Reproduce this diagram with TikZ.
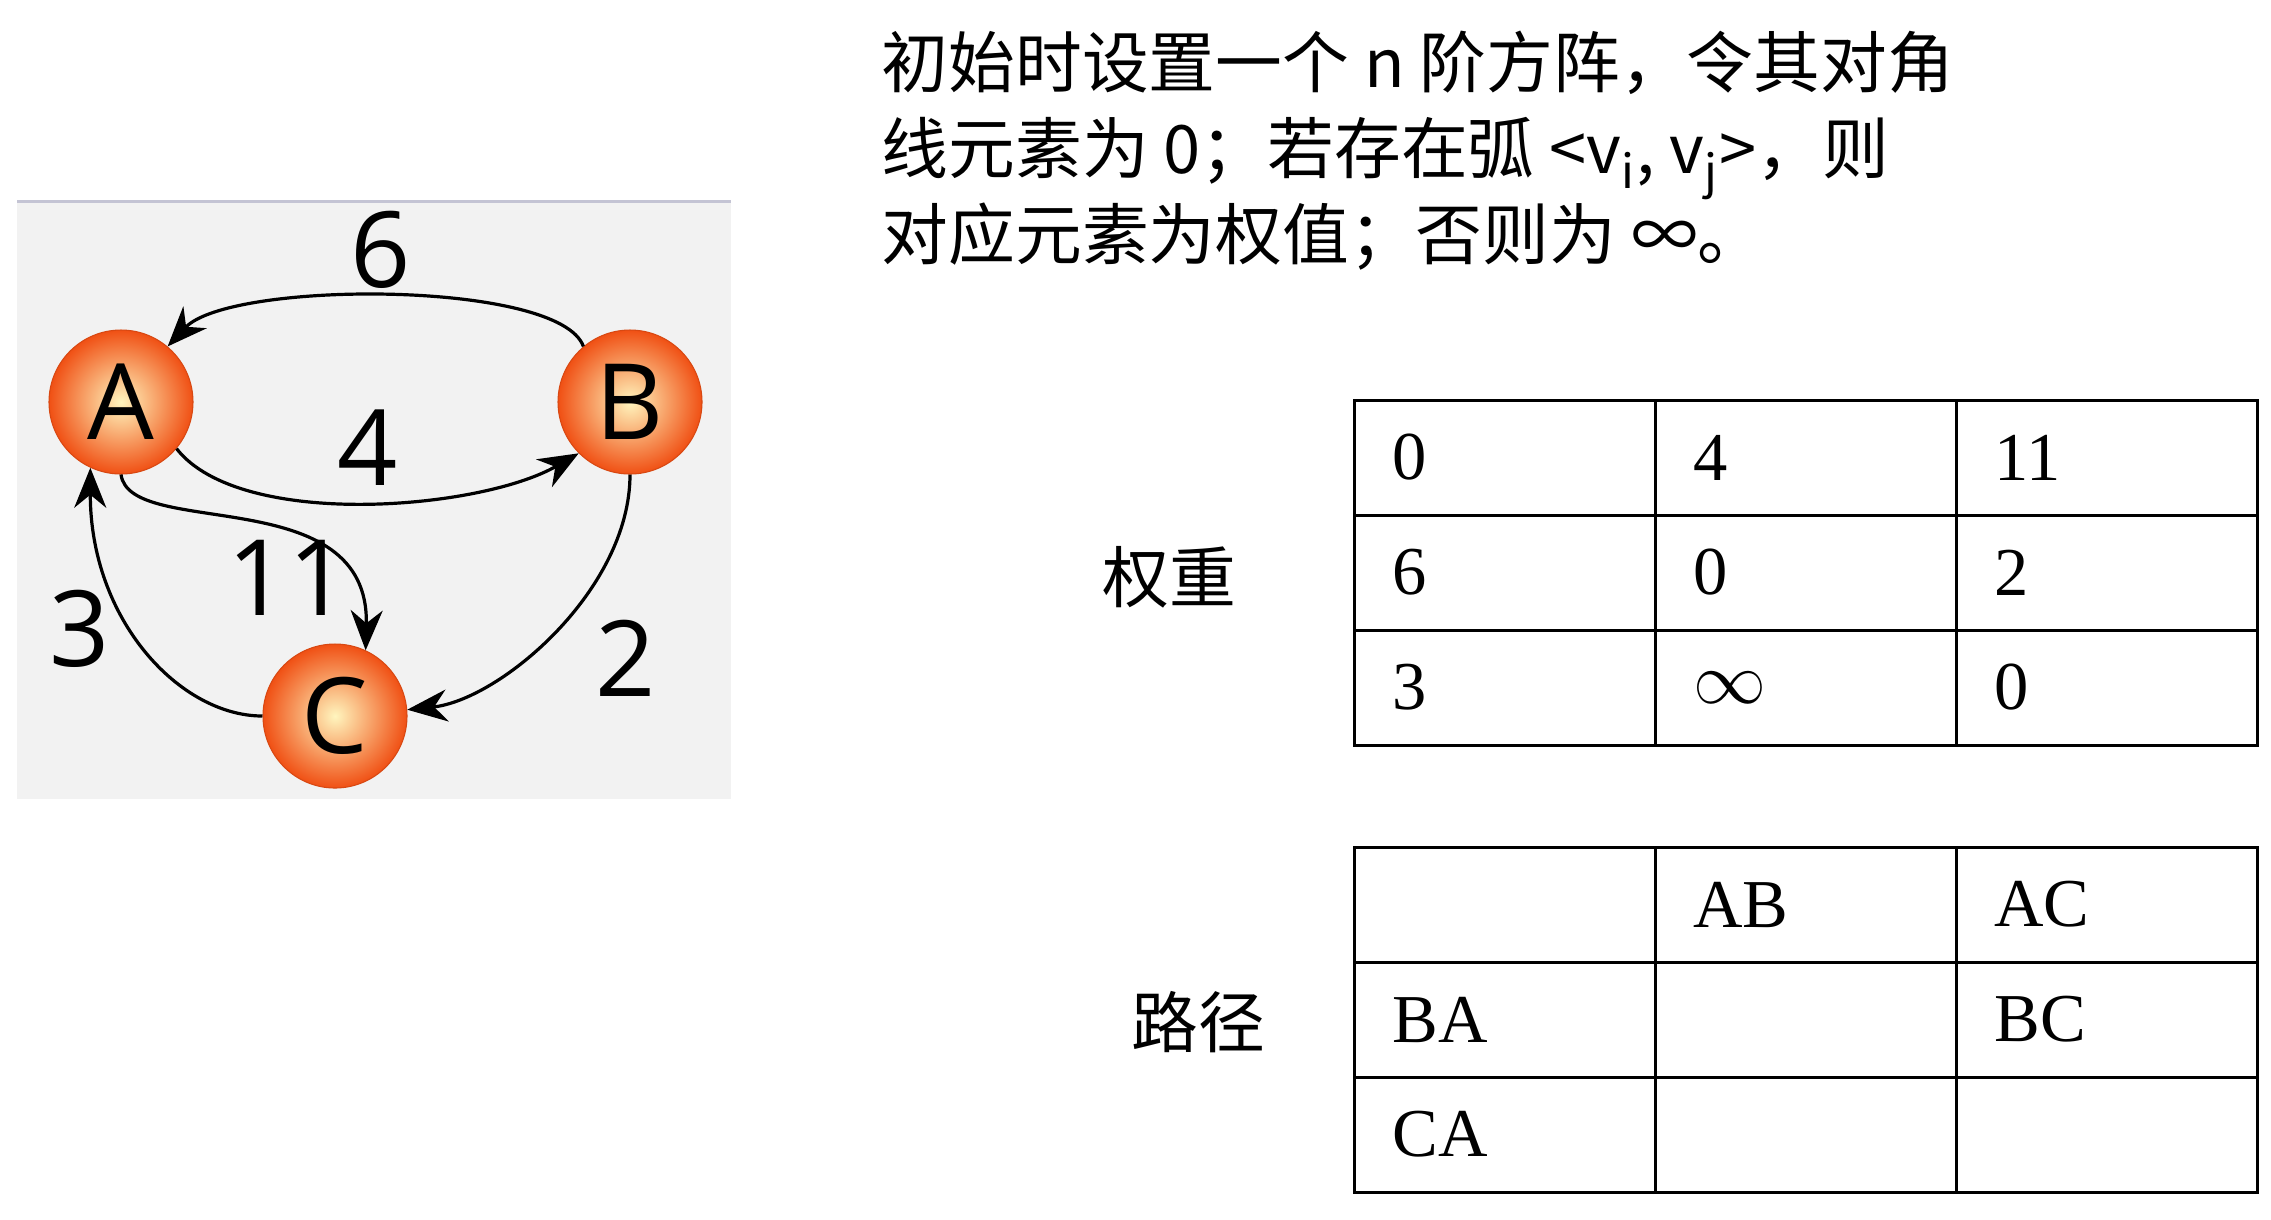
\documentclass[tikz,border=0pt]{standalone}
\usepackage{fontspec}
\setmainfont{Liberation Serif}
\newfontfamily\cjk{Noto Sans CJK SC}
\newfontfamily\gsans{Open Sans}
\usetikzlibrary{arrows.meta}
\definecolor{panel}{RGB}{242,242,242}
\definecolor{ndout}{RGB}{240,80,20}
\definecolor{ndin}{RGB}{255,245,190}
\begin{document}
\begin{tikzpicture}[x=0.1mm,y=-0.1mm,
  vert/.style={circle,minimum size=14.4mm,inner sep=0pt,inner color=ndin,outer color=ndout,draw=ndout!90!black,line width=0.3pt,font=\gsans\fontsize{30}{30}\selectfont},
  edge/.style={line width=0.32mm,-{Stealth[length=4mm,width=3.2mm]}},
  wl/.style={font=\gsans\fontsize{30}{30}\selectfont},
  cell/.style={draw,line width=0.3mm,minimum width=30.1mm,minimum height=11.5mm,anchor=north west,inner sep=0pt,outer sep=0pt},
  ct/.style={anchor=west,font=\fontsize{19.5}{19.5}\selectfont},
  lab/.style={font=\cjk\fontsize{19}{19}\selectfont}]
\useasboundingbox[fill=white] (0,0) rectangle (2271,1219);
% graph panel
\fill[panel] (17,201) rectangle (731,799);
\draw[color=blue!15!gray!40,line width=0.3mm] (17,201) -- (731,201);
\node[vert] (A) at (121,402) {A};
\node[vert] (B) at (630,402) {B};
\node[vert] (C) at (335,716) {C};
\draw[edge] (B.130) .. controls (560,280) and (230,280) .. (A.50);
\draw[edge] (A.-40) .. controls (240,530) and (480,510) .. (B.-135);
\draw[edge] (A.-90) .. controls (130,540) and (370,480) .. (C.65);
\draw[edge] (C.180) .. controls (180,716) and (90,620) .. (A.-115);
\draw[edge] (B.-90) .. controls (630,590) and (500,700) .. (C.5);
\node[wl] (l6) at (381,250) {6};
\node[wl] (l4) at (368,448) {4};
\node[wl] (l11) at (288,578) {11};
\node[wl] (l3) at (80,629) {3};
\node[wl] (l2) at (626,658) {2};
% description text
\node[anchor=north west,align=left,font=\cjk\fontsize{19}{24.5}\selectfont,inner sep=0pt] (txt) at (881,30)
{初始时设置一个 n 阶方阵，令其对角\\线元素为 0；若存在弧 <v\textsubscript{i}, v\textsubscript{j}>，则\\对应元素为权值；否则为 ∞。};
% weight table
\foreach \r/\a/\b/\c [count=\i from 0] in {0/0/4/11,1/6/0/2,2/3/$\infty$/0}{
  \node[cell] (w\i a) at (1354,400+115*\i) {};
  \node[cell] (w\i b) at (1655,400+115*\i) {};
  \node[cell] (w\i c) at (1956,400+115*\i) {};
  \node[ct] at ([xshift=2.6mm]w\i a.west) {\a};
  \node[ct] at ([xshift=2.6mm]w\i b.west) {\b};
  \node[ct] at ([xshift=2.6mm]w\i c.west) {\c};
}
\node[lab] (wl) at (1169,577) {权重};
% path table
\foreach \a/\b/\c [count=\i from 0] in {/AB/AC,BA//BC,CA//}{
  \node[cell] (p\i a) at (1354,847+115*\i) {};
  \node[cell] (p\i b) at (1655,847+115*\i) {};
  \node[cell] (p\i c) at (1956,847+115*\i) {};
  \node[ct] at ([xshift=2.6mm]p\i a.west) {\a};
  \node[ct] at ([xshift=2.6mm]p\i b.west) {\b};
  \node[ct] at ([xshift=2.6mm]p\i c.west) {\c};
}
\node[lab] (pl) at (1198,1022) {路径};
\end{tikzpicture}
\end{document}
